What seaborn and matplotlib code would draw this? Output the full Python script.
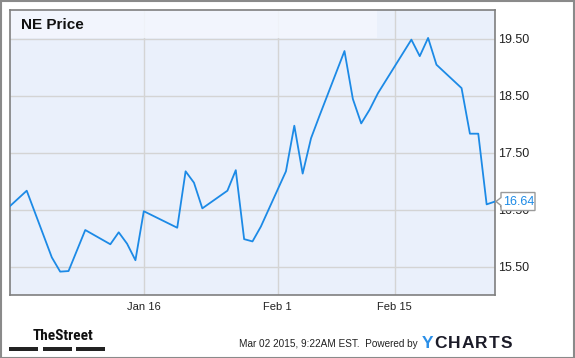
import matplotlib
matplotlib.use("Agg")
import matplotlib.pyplot as plt
import matplotlib.dates as mdates
import matplotlib.transforms as mtransforms
from matplotlib import font_manager
from matplotlib.patches import Rectangle, Polygon
import numpy as np
import pandas as pd
import seaborn as sns

# ---- data ----
dates = ["2014-12-31", "2015-01-02", "2015-01-05", "2015-01-06", "2015-01-07",
         "2015-01-08", "2015-01-09", "2015-01-12", "2015-01-13", "2015-01-14",
         "2015-01-15", "2015-01-16", "2015-01-20", "2015-01-21", "2015-01-22",
         "2015-01-23", "2015-01-26", "2015-01-27", "2015-01-28", "2015-01-29",
         "2015-01-30", "2015-02-02", "2015-02-03", "2015-02-04", "2015-02-05",
         "2015-02-06", "2015-02-09", "2015-02-10", "2015-02-11", "2015-02-12",
         "2015-02-13", "2015-02-17", "2015-02-18", "2015-02-19", "2015-02-20",
         "2015-02-23", "2015-02-24", "2015-02-25", "2015-02-26", "2015-02-27"]
prices = [16.56, 16.83, 15.66, 15.41, 15.42,
          15.78, 16.14, 15.89, 16.10, 15.90,
          15.61, 16.47, 16.18, 17.17, 16.97,
          16.52, 16.83, 17.19, 15.98, 15.94,
          16.20, 17.17, 17.97, 17.13, 17.75,
          18.14, 19.28, 18.44, 18.01, 18.25,
          18.54, 19.48, 19.19, 19.51, 19.04,
          18.63, 17.83, 17.83, 16.59, 16.64]
series_name = "NE Price"
last_label = "16.64"
y_ticks = [15.5, 16.5, 17.5, 18.5, 19.5]
y_tick_labels = ["15.50", "16.50", "17.50", "18.50", "19.50"]
x_ticks = ["2015-01-16", "2015-02-01", "2015-02-15"]
x_tick_labels = ["Jan 16", "Feb 1", "Feb 15"]
x_range = ["2014-12-31", "2015-02-27"]
y_range = [15.0, 20.0]

df = pd.DataFrame({"date": pd.to_datetime(dates), "price": prices})

sns.set_theme(style="white")
plt.rcParams["font.family"] = ["Liberation Sans", "DejaVu Sans"]

available = {f.name for f in font_manager.fontManager.ttflist}
narrow = None
for cand in ["Liberation Sans Narrow", "Roboto Condensed", "Open Sans Condensed",
             "DejaVu Sans Condensed"]:
    if cand in available:
        narrow = cand
        break

W, H = 575, 358
fig = plt.figure(figsize=(W / 100, H / 100), dpi=100)
fig.patch.set_facecolor("white")

L, R, T, B = 10, 495, 10, 295
ax = fig.add_axes([L / W, (H - B) / H, (R - L) / W, (B - T) / H])
ax.set_facecolor("#EAF0FB")

line_color = "#1C8AE6"
sns.lineplot(data=df, x="date", y="price", ax=ax, color=line_color,
             linewidth=1.3, zorder=4)

ax.set_xlim(pd.to_datetime(x_range[0]), pd.to_datetime(x_range[1]))
ax.set_ylim(*y_range)

ax.set_xticks(pd.to_datetime(x_ticks))
ax.set_xticklabels(x_tick_labels, fontsize=8, color="#222222")
ax.yaxis.tick_right()
ax.set_yticks(y_ticks)
ax.set_yticklabels(y_tick_labels, fontsize=9, color="#222222")
ax.tick_params(axis="both", length=0)
ax.tick_params(axis="x", pad=5)
ax.tick_params(axis="y", pad=2.5)
ax.set_xlabel("")
ax.set_ylabel("")
ax.grid(True, color="#D4D4D4", linewidth=1, zorder=1)
ax.set_axisbelow(True)
for s in ax.spines.values():
    s.set_color("#7F7F7F")
    s.set_linewidth(1.2)

# title band
ax.add_patch(Rectangle((0, (B - 38) / (B - T)), (377 - L) / (R - L), 1 - (B - 38) / (B - T),
                       transform=ax.transAxes, facecolor="#F4F7FE", alpha=0.85,
                       edgecolor="none", zorder=2))
ax.text(11 / (R - L), 1 - 15 / (B - T), series_name, transform=ax.transAxes,
        fontsize=11, fontweight="bold", color="#111111", va="center", ha="left",
        zorder=5)

# last value callout
last_x = mdates.date2num(df["date"].iloc[-1])
last_y = df["price"].iloc[-1]
px_tr = (mtransforms.Affine2D().scale(1 / 100.0) + fig.dpi_scale_trans +
         mtransforms.ScaledTranslation(last_x, last_y, ax.transData))
callout = Polygon([(1, 0), (6, 4), (6, 9), (40, 9), (40, -9), (6, -9), (6, -4)],
                  closed=True, transform=px_tr, facecolor="white",
                  edgecolor="#9A9A9A", linewidth=1.0, zorder=10, clip_on=False)
ax.add_patch(callout)
ax.text(8.5, 0, last_label, transform=px_tr, fontsize=9, color=line_color,
        va="center", ha="left", zorder=11, clip_on=False)

# footer
if narrow:
    fig.text(33 / W, 1 - 336 / H, "TheStreet", fontsize=11, fontweight="bold",
             color="#111111", ha="left", va="center", family=narrow)
else:
    fig.text(33 / W, 1 - 336 / H, "TheStreet", fontsize=9, fontweight="bold",
             color="#111111", ha="left", va="center")
for x0, x1 in [(9, 38), (43, 72), (76, 105)]:
    fig.patches.append(Rectangle((x0 / W, 1 - 351 / H), (x1 - x0) / W, 4 / H,
                                 transform=fig.transFigure, facecolor="#222222",
                                 edgecolor="none"))
fig.text(418 / W, 1 - 344 / H, "Mar 02 2015, 9:22AM EST.  Powered by", fontsize=7.2,
         color="#222222", ha="right", va="center")
letters = "YCHARTS"
lx = 422
for i, ch in enumerate(letters):
    fig.text(lx / W, 1 - 344 / H, ch, fontsize=12.5, fontweight="bold",
             color="#2B8FE8" if i == 0 else "#1B1B28", ha="left", va="center")
    lx += {"Y": 12.5, "C": 13.5, "H": 13.5, "A": 13.5, "R": 13.5, "T": 12.5, "S": 12}[ch]

# outer frame
fig.patches.append(Rectangle((0.5 / W, 0.5 / H), (W - 1.5) / W, (H - 1.5) / H,
                             transform=fig.transFigure, facecolor="none",
                             edgecolor="#8A8A8A", linewidth=1.5))

fig.savefig("out.png", dpi=100, facecolor="white")
